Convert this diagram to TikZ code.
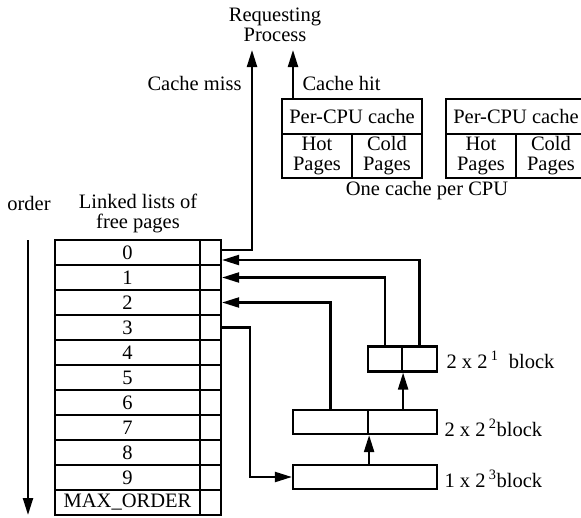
\documentclass[tikz,border=0pt]{standalone}
\usepackage{fontspec}
\setmainfont{Liberation Serif}
\usetikzlibrary{positioning, arrows.meta}

\begin{document}
\begin{tikzpicture}[x=1pt, y=-1pt,
    font=\fontsize{20.5}{20}\selectfont,
    cell/.style={rectangle, draw, line width=2.2pt, inner sep=0pt,
                 minimum height=25pt, align=center},
    listcell/.style={cell, minimum width=145pt},
    ptrcell/.style={cell, minimum width=21pt},
    cachetop/.style={cell, minimum width=140pt, minimum height=35pt},
    cachehalf/.style={cell, minimum width=70pt, minimum height=44pt},
    blockbox/.style={cell, minimum height=25pt},
    arr/.style={-{Triangle[length=17pt, width=10pt]}, line width=2.2pt},
]
\clip (0,0) rectangle (581,517);

% ─── Free-page lists, one row per order ──────────────────────────
\foreach \lbl [count=\i from 0] in {0,1,2,3,4,5,6,7,8,9,MAX\_ORDER} {
  \node[listcell] (r\i) at (127.5, 252.5+25*\i) {\lbl};
  \node[ptrcell]  (p\i) at (210.5, 252.5+25*\i) {};
}

\node (order) at (29, 203) {order};
\node[align=center] (lists) at (138, 213) {Linked lists of\\free pages};
\coordinate (ordtop) at (28, 240);
\coordinate (ordbot) at (28, 515);
\draw[arr] (ordtop) -- (ordbot);

% ─── Requesting process and per-CPU caches ───────────────────────
\node[align=center] (req) at (275, 25) {Requesting\\Process};
\coordinate (misstip) at (252, 50);
\coordinate (hittip)  at (293, 50);

\node[cachetop]  (cpuA)  at (352, 116.5) {Per-CPU cache};
\node[cachehalf] (hotA)  at (317, 156) {Hot\\Pages};
\node[cachehalf] (coldA) at (387, 156) {Cold\\Pages};

\node[cachetop]  (cpuB)  at (516, 116.5) {Per-CPU cache};
\node[cachehalf] (hotB)  at (481, 156) {Hot\\Pages};
\node[cachehalf] (coldB) at (551, 156) {Cold\\Pages};

\node (percpu) at (427, 191) {One cache per CPU};

\draw[arr] ([yshift=2.5pt]p0.east) -| (misstip);
\draw[arr] (hittip |- cpuA.north) -- (hittip);
\node[anchor=east] (misslab) at (245, 83) {Cache miss};
\node[anchor=west] (hitlab)  at (299, 83) {Cache hit};

% ─── Buddy blocks being split ────────────────────────────────────
\node[blockbox, minimum width=34pt] (b1L) at (385, 359) {};
\node[blockbox, minimum width=35pt] (b1R) at (419.5, 359) {};
\node[blockbox, minimum width=75pt, minimum height=24pt] (b2L) at (330.5, 422) {};
\node[blockbox, minimum width=69pt, minimum height=24pt] (b2R) at (402.5, 422) {};
\node[blockbox, minimum width=144pt, minimum height=24pt] (b3) at (365, 477) {};

\node[anchor=west] (lab1) at (443, 360) {2 x 2\,\textsuperscript{1}\ \ block};
\node[anchor=west] (lab2) at (441, 428) {2 x 2\,\textsuperscript{2}block};
\node[anchor=west] (lab3) at (441, 479) {1 x 2\,\textsuperscript{3}block};

\draw[arr] (p3.east) -- ++(28,0) |- (b3.west);
\draw[arr] (b2L.south east |- b3.north) -- (b2L.south east);
\draw[arr] (b1L.south east |- b2R.north) -- (b1L.south east);
\draw[arr] (b1R.north) |- ([yshift=-7.5pt]p0.east);
\draw[arr] (b1L.north) |- (p1.east);
\draw[arr] (b2L.north) |- (p2.east);

\end{tikzpicture}
\end{document}
